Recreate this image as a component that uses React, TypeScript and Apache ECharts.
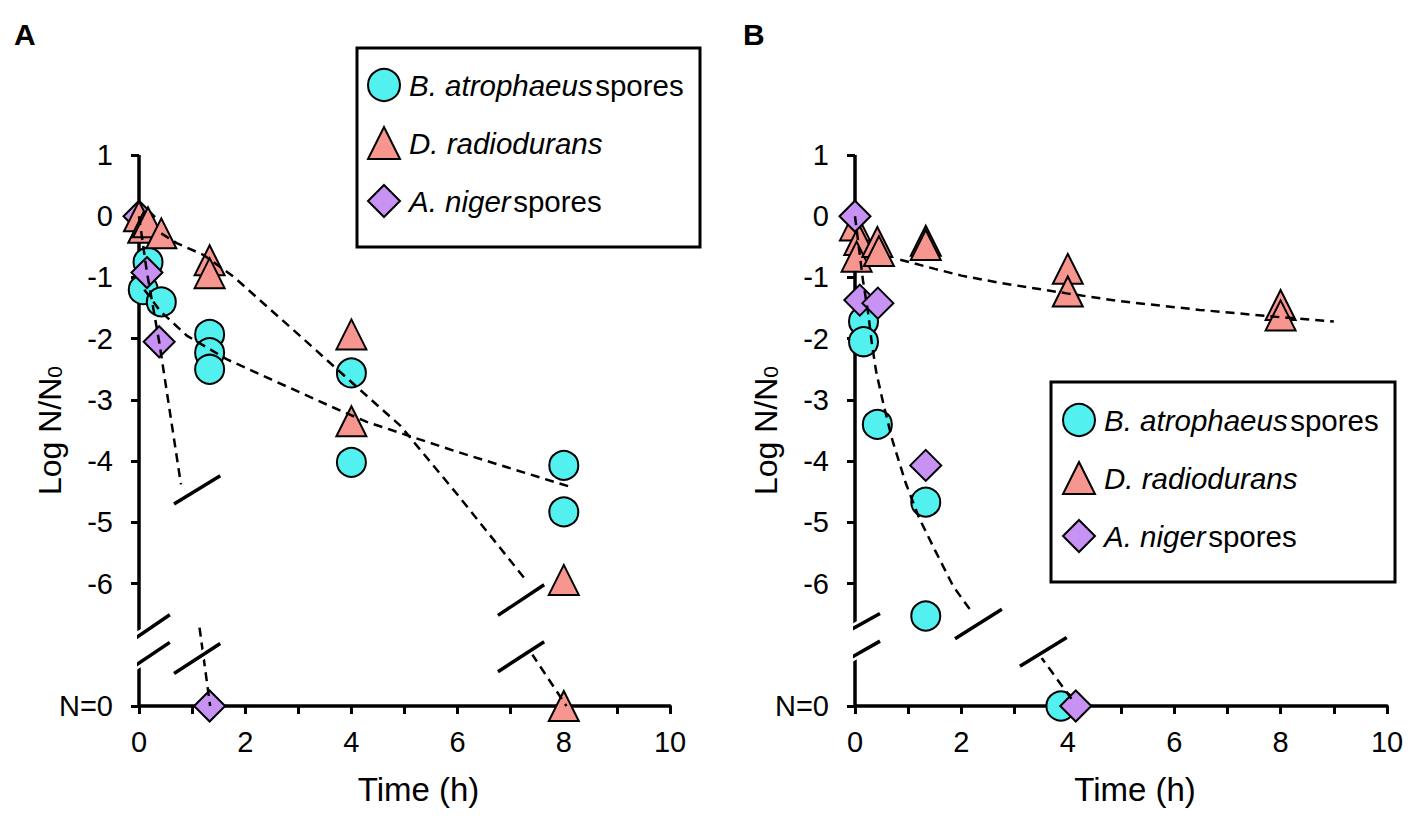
import React, { useEffect, useRef } from "react";
import * as echarts from "echarts";

const FONT = "'Liberation Sans', Arial, Helvetica, sans-serif";

const speciesNames = ["B. atrophaeus spores", "D. radiodurans", "A. niger spores"];
const colors = ["#52F0EE", "#F7958F", "#C792F4"];

const xLabelValues = [0, 2, 4, 6, 8, 10];
const yTickValues = [-8, -6, -5, -4, -3, -2, -1, 0, 1];

// Panel A measurements [time h, log N/N0]; N=0 drawn at -8
const atroA: number[][] = [
  [0.08, -1.2], [0.17, -0.75], [0.42, -1.4],
  [1.33, -1.93], [1.33, -2.23], [1.33, -2.5],
  [4, -2.56], [4, -4.02], [8, -4.07], [8, -4.83],
];
const radA: number[][] = [
  [0, 0], [0.08, -0.19], [0.17, -0.1], [0.42, -0.28],
  [1.33, -0.72], [1.33, -0.93], [4, -1.93], [4, -3.35],
  [8, -5.94], [8, -8],
];
const nigA: number[][] = [[0, 0], [0.15, -0.92], [0.38, -2.05], [1.33, -8]];

// Panel B measurements
const atroB: number[][] = [
  [0.16, -1.72], [0.16, -2.05], [0.42, -3.4],
  [1.33, -4.67], [1.33, -6.53], [3.87, -8],
];
const radB: number[][] = [
  [0, -0.15], [0.08, -0.39], [0.03, -0.66], [0.42, -0.42], [0.45, -0.57],
  [1.33, -0.4], [1.33, -0.47], [4, -0.86], [4, -1.23], [8, -1.45], [8, -1.62],
];
const nigB: number[][] = [[0, 0], [0.09, -1.37], [0.43, -1.42], [1.33, -4.07], [4.15, -8]];

// Fitted (dashed) curves
const fitAtroA: number[][] = [
  [0.1, -1.2], [0.24, -1.36], [0.4, -1.55], [0.9, -1.95], [1.66, -2.34],
  [2.5, -2.67], [3.65, -3.12], [4.29, -3.36], [6.0, -3.85], [8.12, -4.42],
];
const fitRadA1: number[][] = [
  [0.42, -0.28], [0.71, -0.44], [1.21, -0.63], [1.77, -0.98], [3.0, -1.93],
  [4.22, -2.88], [4.92, -3.42], [6.0, -4.55], [7.31, -5.97],
];
const fitRadA2: number[][] = [[7.4, -7.15], [8.05, -8]];
const fitNigA1: number[][] = [[0, 0], [0.15, -0.92], [0.38, -2.05], [0.6, -3.3], [0.79, -4.38]];
const fitNigA2: number[][] = [[1.14, -6.72], [1.34, -8]];

const fitRadB: number[][] = [
  [0.85, -0.71], [1.5, -0.86], [2.0, -0.97], [2.73, -1.09], [3.98, -1.26],
  [5.0, -1.39], [6.48, -1.53], [8.0, -1.65], [9.0, -1.72],
];
const fitMixB1: number[][] = [
  [0, 0], [0.15, -1.05], [0.25, -1.6], [0.32, -2.1], [0.4, -2.55], [0.53, -3.05],
  [0.7, -3.65], [0.95, -4.35], [1.2, -4.92], [1.5, -5.45], [1.85, -6.05], [2.2, -6.47],
];
const fitMixB2: number[][] = [[3.47, -7.17], [4.1, -7.92]];

// Axis-break slashes (data space)
const breaksA: number[][][] = [
  [[-0.28, -7.02], [0.58, -6.51]],
  [[-0.28, -7.46], [0.58, -6.96]],
  [[0.66, -4.7], [1.53, -4.24]],
  [[0.66, -7.47], [1.53, -6.98]],
  [[6.76, -6.52], [7.63, -6.02]],
  [[6.76, -7.44], [7.63, -6.95]],
];
const breaksB: number[][][] = [
  [[-0.4, -6.91], [0.47, -6.49]],
  [[-0.4, -7.37], [0.47, -6.94]],
  [[1.88, -6.9], [2.76, -6.42]],
  [[3.1, -7.35], [3.98, -6.88]],
];
// Broken y-axis line segments
const yAxisSegA: number[][][] = [[[0, 1], [0, -6.77]], [[0, -7.29], [0, -8]]];
const yAxisSegB: number[][][] = [[[0, 1], [0, -6.7]], [[0, -7.19], [0, -8]]];

function scatter(name: string, data: number[][], symbol: string, size: number, color: string, idx: number) {
  return {
    type: "scatter",
    name,
    data,
    symbol,
    symbolSize: size,
    xAxisIndex: idx,
    yAxisIndex: idx,
    z: 2,
    itemStyle: { color, borderColor: "#000", borderWidth: 2, opacity: 1 },
    emphasis: { disabled: true },
  };
}

function line(id: string, data: number[][], idx: number, lineStyle: any, z: number) {
  return {
    type: "line",
    id,
    name: id,
    data,
    xAxisIndex: idx,
    yAxisIndex: idx,
    symbol: "none",
    showSymbol: false,
    clip: false,
    silent: true,
    z,
    lineStyle,
    emphasis: { disabled: true },
  };
}

const dashed = { color: "#000", width: 2.5, type: [9, 6] };
const solidAxis = { color: "#000", width: 3.5, cap: "butt" };

function breaks(prefix: string, list: number[][][], idx: number) {
  const out: any[] = [];
  list.forEach((seg, i) => {
    out.push(line(`${prefix}w${i}`, seg, idx, { color: "#fff", width: 9, cap: "butt" }, 5));
    out.push(line(`${prefix}b${i}`, seg, idx, { color: "#000", width: 3.5, cap: "butt" }, 6));
  });
  return out;
}

function xAxis(idx: number) {
  return {
    type: "value",
    gridIndex: idx,
    min: 0,
    max: 10,
    interval: 1,
    axisLine: { show: true, onZero: false, lineStyle: { color: "#000", width: 3.5 } },
    axisTick: { show: true, length: 8, inside: false, lineStyle: { color: "#000", width: 3 } },
    axisLabel: {
      customValues: xLabelValues,
      fontSize: 29,
      color: "#000",
      fontFamily: FONT,
      margin: 21,
    },
    splitLine: { show: false },
    name: "Time (h)",
    nameLocation: "middle",
    nameGap: 67,
    nameMoveOverlap: false,
    nameTextStyle: { fontSize: 33, color: "#000", fontFamily: FONT, padding: [0, 0, 0, 28] },
  };
}

function yAxis(idx: number) {
  return {
    type: "value",
    gridIndex: idx,
    min: -8,
    max: 1,
    interval: 1,
    axisLine: { show: false, onZero: false },
    axisTick: {
      show: true,
      length: 8,
      inside: false,
      customValues: yTickValues,
      lineStyle: { color: "#000", width: 3 },
    },
    axisLabel: {
      customValues: yTickValues,
      formatter: (v: number) => (v === -8 ? "N=0" : String(v)),
      fontSize: 29,
      color: "#000",
      fontFamily: FONT,
      margin: 26,
    },
    splitLine: { show: false },
    name: "{n|Log N/N}{s|0}",
    nameLocation: "middle",
    nameGap: 64,
    nameMoveOverlap: false,
    nameTextStyle: {
      color: "#000",
      fontFamily: FONT,
      fontSize: 32,
      rich: {
        n: { fontSize: 32, fontFamily: FONT, color: "#000", padding: [0, 0, 9, 0] },
        s: { fontSize: 21, fontFamily: FONT, color: "#000" },
      },
    },
  };
}

function legendFormatter(name: string) {
  if (name === "B. atrophaeus spores") return "{i|B. atrophaeus}{s| }spores";
  if (name === "D. radiodurans") return "{i|D. radiodurans}";
  return "{i|A. niger}{s| }spores";
}

function legend(left: number, top: number) {
  return {
    data: speciesNames,
    orient: "vertical",
    left,
    top,
    padding: 0,
    itemWidth: 32,
    itemHeight: 32,
    itemGap: 24,
    selectedMode: false,
    formatter: legendFormatter,
    textStyle: {
      fontSize: 29.5,
      color: "#000",
      fontFamily: FONT,
      lineHeight: 32,
      padding: [0, 0, 0, 4],
      rich: {
        i: { fontStyle: "italic", fontSize: 29.5, fontFamily: FONT, color: "#000", lineHeight: 32 },
        s: { fontSize: 9, fontFamily: FONT, lineHeight: 32 },
      },
    },
  };
}

export default function App() {
  const ref = useRef<HTMLDivElement>(null);
  useEffect(() => {
    document.body.style.margin = "0";
    if (!ref.current) return;
    const chart = echarts.init(ref.current, undefined, { renderer: "svg" });
    const series: any[] = [
      // Panel A
      ...yAxisSegA.map((s, i) => line(`axA${i}`, s, 0, solidAxis, 1)),
      scatter(speciesNames[0], atroA, "circle", 29, colors[0], 0),
      scatter(speciesNames[2], nigA, "diamond", 31, colors[2], 0),
      scatter(speciesNames[1], radA, "triangle", 30, colors[1], 0),
      line("fitAtroA", fitAtroA, 0, dashed, 3),
      line("fitRadA1", fitRadA1, 0, dashed, 3),
      line("fitRadA2", fitRadA2, 0, dashed, 3),
      line("fitNigA1", fitNigA1, 0, dashed, 3),
      line("fitNigA2", fitNigA2, 0, dashed, 3),
      ...breaks("brA", breaksA, 0),
      // Panel B
      ...yAxisSegB.map((s, i) => line(`axB${i}`, s, 1, solidAxis, 1)),
      scatter(speciesNames[0], atroB, "circle", 29, colors[0], 1),
      scatter(speciesNames[1], radB, "triangle", 30, colors[1], 1),
      scatter(speciesNames[2], nigB, "diamond", 31, colors[2], 1),
      line("fitRadB", fitRadB, 1, dashed, 3),
      line("fitMixB1", fitMixB1, 1, dashed, 3),
      line("fitMixB2", fitMixB2, 1, dashed, 3),
      ...breaks("brB", breaksB, 1),
    ];
    chart.setOption({
      animation: false,
      backgroundColor: "#fff",
      textStyle: { fontFamily: FONT },
      grid: [
        { left: 139, top: 155, width: 531, height: 551, containLabel: false },
        { left: 855, top: 155, width: 532, height: 551, containLabel: false },
      ],
      xAxis: [xAxis(0), xAxis(1)],
      yAxis: [yAxis(0), yAxis(1)],
      legend: [legend(367, 68), legend(1062, 403)],
      graphic: [
        {
          type: "rect",
          z: 0,
          shape: { x: 357, y: 48, width: 343, height: 199 },
          style: { fill: "#fff", stroke: "#000", lineWidth: 3 },
        },
        {
          type: "rect",
          z: 0,
          shape: { x: 1051, y: 382, width: 344, height: 200 },
          style: { fill: "#fff", stroke: "#000", lineWidth: 3 },
        },
        { type: "text", left: 14, top: 19, style: { text: "A", font: `bold 30px ${FONT}`, fill: "#000" } },
        { type: "text", left: 743, top: 19, style: { text: "B", font: `bold 30px ${FONT}`, fill: "#000" } },
      ],
      series,
    });
    return () => chart.dispose();
  }, []);
  return (
    <div
      ref={ref}
      style={{ position: "fixed", left: 0, top: 0, width: 1417, height: 819, background: "#fff" }}
    />
  );
}
